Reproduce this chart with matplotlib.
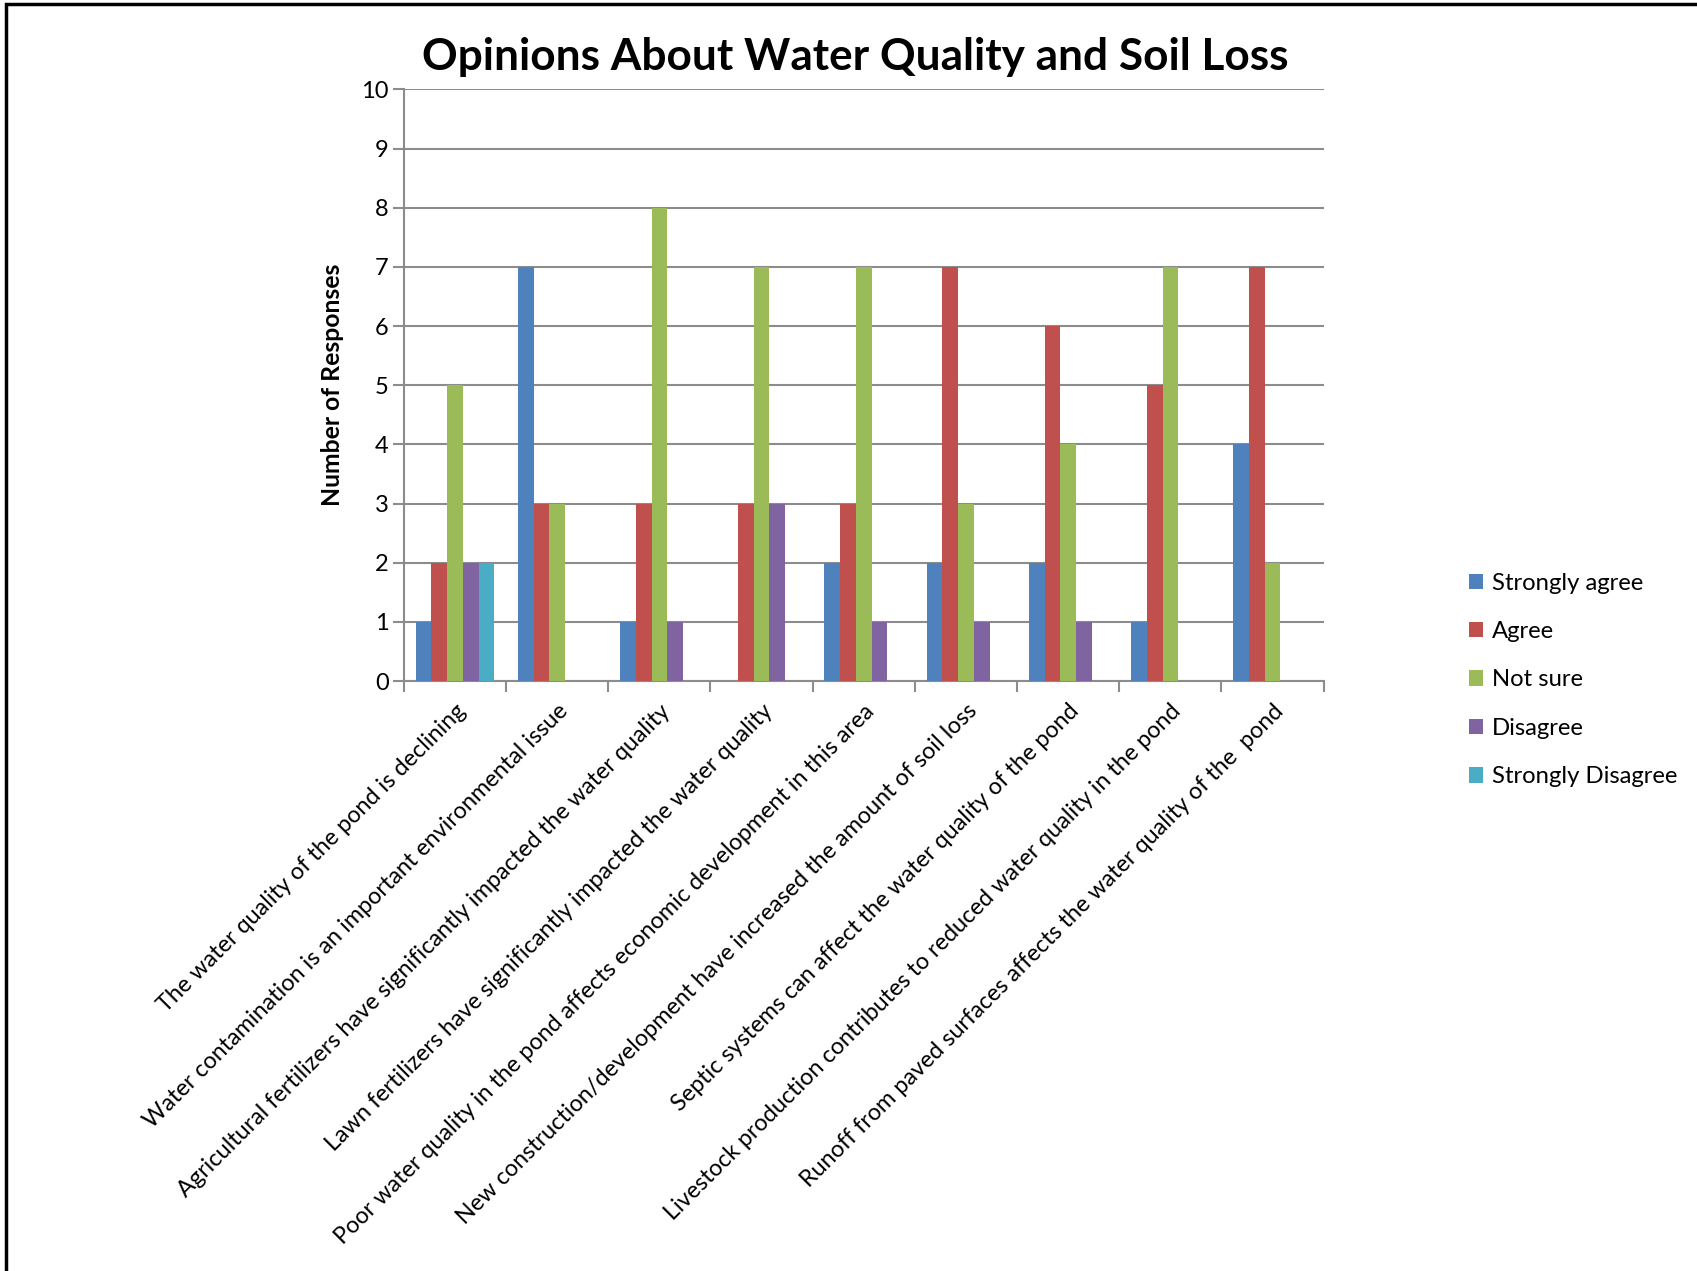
import numpy as np
import matplotlib
matplotlib.use("Agg")
import matplotlib.pyplot as plt
from matplotlib.patches import Rectangle

plt.rcParams['font.family'] = ['Lato', 'DejaVu Sans']

# datos
categorias = [
    "The water quality of the pond is declining",
    "Water contamination is an important environmental issue",
    "Agricultural fertilizers have significantly impacted the water quality",
    "Lawn fertilizers have significantly impacted the water quality",
    "Poor water quality in the pond affects economic development in this area",
    "New construction/development have increased the amount of soil loss",
    "Septic systems can affect the water quality of the pond",
    "Livestock production contributes to reduced water quality in the pond",
    "Runoff from paved surfaces affects the water quality of the  pond",
]
series = ["Strongly agree", "Agree", "Not sure", "Disagree", "Strongly Disagree"]
strongly_agree = [1, 7, 1, 0, 2, 2, 2, 1, 4]
agree = [2, 3, 3, 3, 3, 7, 6, 5, 7]
not_sure = [5, 3, 8, 7, 7, 3, 4, 7, 2]
disagree = [2, 0, 1, 3, 1, 1, 1, 0, 0]
strongly_disagree = [2, 0, 0, 0, 0, 0, 0, 0, 0]
valores = [strongly_agree, agree, not_sure, disagree, strongly_disagree]
colores = ['#4F81BD', '#C0504D', '#9BBB59', '#8064A2', '#4BACC6']

fig = plt.figure(figsize=(16.97, 12.71), dpi=100)
ax = fig.add_axes([0.238, 0.4642, 0.542, 0.4655])

x = np.arange(len(categorias))
ancho = 1 / 6.5
for i, (nombre, vals, col) in enumerate(zip(series, valores, colores)):
    ax.bar(x + (i - 2) * ancho, vals, ancho, color=col, label=nombre, zorder=3)

gris = '#8C8C8C'
ax.set_xlim(-0.5, len(categorias) - 0.5)
ax.set_ylim(0, 10)
ax.set_yticks(range(0, 11))
ax.yaxis.grid(True, color=gris, linewidth=1.5, zorder=0)
ax.set_axisbelow(True)
for lado in ['top', 'right']:
    ax.spines[lado].set_visible(False)
for lado in ['left', 'bottom']:
    ax.spines[lado].set_color(gris)
    ax.spines[lado].set_linewidth(1.5)

ax.set_xticks(x)
ax.set_xticklabels(categorias, rotation=45, ha='right', rotation_mode='anchor', fontsize=16.8)
ax.set_xticks(np.arange(-0.5, len(categorias)), minor=True)
ax.tick_params(axis='x', which='major', length=0, pad=14)
ax.tick_params(axis='x', which='minor', length=8, width=1.5, color=gris, direction='out')
ax.tick_params(axis='y', length=8, width=1.5, color=gris, labelsize=17, pad=3)

ax.set_ylabel('Number of Responses', fontsize=17.8, fontweight='bold', labelpad=12)
fig.text(0.504, 0.955, 'Opinions About Water Quality and Soil Loss', ha='center', va='center',
         fontsize=31.8, fontweight='bold')

ax.legend(loc='center left', bbox_to_anchor=(0.853, 0.465), bbox_transform=fig.transFigure,
          frameon=False, fontsize=17.2, handlelength=0.6, handleheight=0.6,
          handletextpad=0.35, labelspacing=1.15)

# marco exterior del grafico
fig.patches.append(Rectangle((0.0035, -0.05), 1.1, 1.047, transform=fig.transFigure,
                             fill=False, edgecolor='black', linewidth=2.5))

fig.savefig('out.png', dpi=100)
